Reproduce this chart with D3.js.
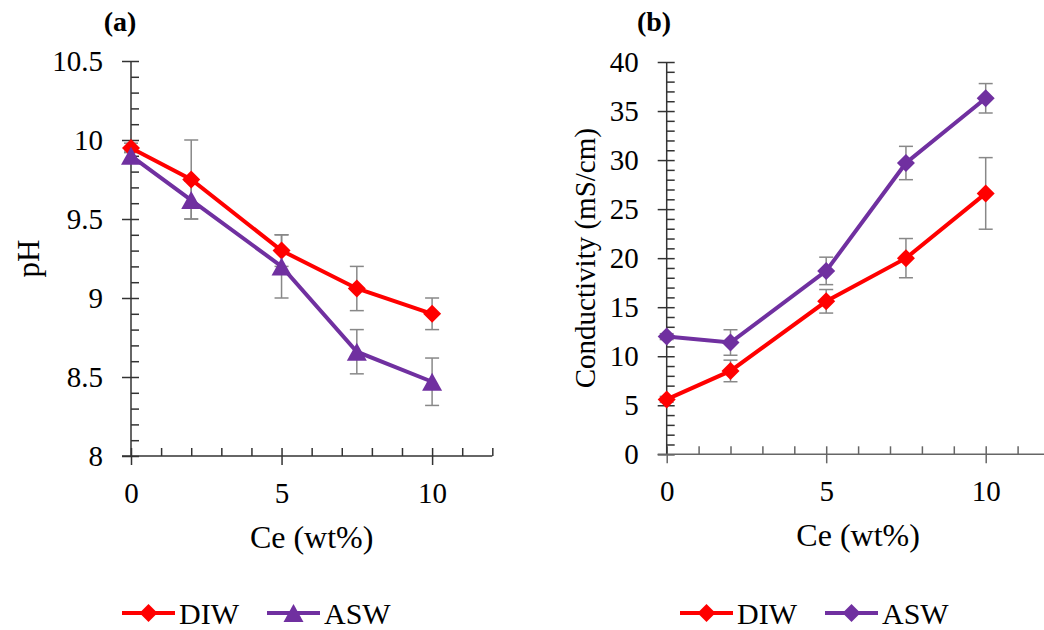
<!DOCTYPE html>
<html>
<head>
<meta charset="utf-8">
<script src="https://cdn.jsdelivr.net/npm/d3@7"></script>
<style>
  body { margin: 0; background: #fff; }
  svg { display: block; }
  svg text { font-family: "Liberation Serif", "Times New Roman", Times, serif !important; fill: #000; }
</style>
</head>
<body>
<script>
// Ce loading (wt%)
const ce = [0, 2, 5, 7.5, 10];

// panel (a): pH
const phDIW = [9.95, 9.75, 9.30, 9.06, 8.90];
const phDIWErr = [0.03, 0.25, 0.10, 0.14, 0.10];
const phASW = [9.90, 9.62, 9.20, 8.66, 8.47];
const phASWErr = [0.03, 0.12, 0.20, 0.14, 0.15];

// panel (b): conductivity (mS/cm)
const condDIW = [5.6, 8.5, 15.6, 20.0, 26.6];
const condDIWErr = [0.3, 1.1, 1.2, 2.0, 3.65];
const condASW = [12.0, 11.4, 18.7, 29.7, 36.3];
const condASWErr = [0.3, 1.3, 1.4, 1.7, 1.5];

const seriesNames = ["DIW", "ASW"];
const colors = { DIW: "#ff0000", ASW: "#7030a0" };

const phTicks = [8, 8.5, 9, 9.5, 10, 10.5];
const condTicks = [0, 5, 10, 15, 20, 25, 30, 35, 40];
const xTicks = [0, 5, 10];

const W = 1044, H = 630;
const svg = d3.select("body").append("svg").attr("width", W).attr("height", H);

const diamond = "M0,-9L9,0L0,9L-9,0Z";
const triangle = "M0,-9L10,9L-10,9Z";

function drawPanel(cfg) {
    let x = d3.scaleLinear().domain([0, 12]).range([cfg.left, cfg.left + cfg.xStep * 12]);
    let y = d3.scaleLinear().domain(cfg.yDomain).range([cfg.bottom, cfg.top]);
    let g = svg.append("g");

    // minor ticks (inside)
    g.append("g")
        .attr("transform", `translate(${cfg.left},0)`)
        .call(d3.axisRight(y).tickValues(d3.range(cfg.yDomain[0], cfg.yDomain[1] + 1e-9, cfg.yMinor)).tickSize(8).tickSizeOuter(0).tickFormat(""))
        .call(a => a.select(".domain").remove())
        .selectAll("line").attr("stroke", cfg.yAxisColor).attr("stroke-width", 1.5);
    g.append("g")
        .attr("transform", `translate(0,${cfg.bottom})`)
        .call(d3.axisTop(x).tickValues(d3.range(0, 13, 1)).tickSize(8).tickSizeOuter(0).tickFormat(""))
        .call(a => a.select(".domain").remove())
        .selectAll("line").attr("stroke", cfg.xAxisColor).attr("stroke-width", 1.5);

    // y axis with labels
    let ya = g.append("g")
        .attr("transform", `translate(${cfg.left},0)`)
        .call(d3.axisLeft(y).tickValues(cfg.yTicks).tickSize(9).tickSizeOuter(0).tickPadding(19).tickFormat(d => String(d)));
    ya.select(".domain").attr("stroke", cfg.yAxisColor).attr("stroke-width", 1.5)
        .attr("d", `M0,${cfg.bottom}V${cfg.top}`);
    ya.selectAll("line").attr("stroke", cfg.yAxisColor).attr("stroke-width", 1.5);
    ya.selectAll("text").style("font-size", "29px").attr("fill", "#000").attr("dy", "0.33em");

    // x axis with labels
    let xa = g.append("g")
        .attr("transform", `translate(0,${cfg.bottom})`)
        .call(d3.axisBottom(x).tickValues(xTicks).tickSize(9).tickSizeOuter(0).tickPadding(17));
    xa.select(".domain").attr("stroke", cfg.xAxisColor).attr("stroke-width", 1.5)
        .attr("d", `M${cfg.left - 9},0H${x(12)}`);
    xa.selectAll("line").attr("stroke", cfg.xAxisColor).attr("stroke-width", 1.5);
    xa.selectAll("text").style("font-size", "29px").attr("fill", "#000").attr("dy", "0.71em");

    // axis titles
    g.append("text")
        .attr("x", (x(0) + x(12)) / 2).attr("y", cfg.bottom + 92)
        .attr("text-anchor", "middle").style("font-size", "32px")
        .text("Ce (wt%)");
    g.append("text")
        .attr("transform", `translate(${cfg.yTitleX},${(cfg.top + cfg.bottom) / 2}) rotate(-90)`)
        .attr("text-anchor", "middle").attr("dy", "0.35em").style("font-size", cfg.yTitleSize)
        .text(cfg.yTitle);
    g.append("text")
        .attr("x", cfg.labelX).attr("y", 31)
        .attr("text-anchor", "middle").style("font-size", "28px").style("font-weight", "bold")
        .text(cfg.label);

    // error bars
    cfg.series.forEach(s => {
        let pts = ce.map((c, i) => ({ x: c, y: s.values[i], e: s.err[i] }));
        let eb = g.append("g").attr("stroke", "#888").attr("stroke-width", 1.5);
        pts.forEach(p => {
            eb.append("line").attr("x1", x(p.x)).attr("x2", x(p.x)).attr("y1", y(p.y - p.e)).attr("y2", y(p.y + p.e));
            eb.append("line").attr("x1", x(p.x) - 7).attr("x2", x(p.x) + 7).attr("y1", y(p.y - p.e)).attr("y2", y(p.y - p.e));
            eb.append("line").attr("x1", x(p.x) - 7).attr("x2", x(p.x) + 7).attr("y1", y(p.y + p.e)).attr("y2", y(p.y + p.e));
        });
    });
    // lines and markers
    cfg.series.forEach(s => {
        let pts = ce.map((c, i) => ({ x: c, y: s.values[i] }));
        g.append("path")
            .datum(pts)
            .attr("fill", "none").attr("stroke", colors[s.name]).attr("stroke-width", 4)
            .attr("d", d3.line().x(d => x(d.x)).y(d => y(d.y)));
        g.selectAll(null).data(pts).enter().append("path")
            .attr("transform", d => `translate(${x(d.x)},${y(d.y)})`)
            .attr("d", s.marker).attr("fill", colors[s.name]);
    });

    // legend
    let lg = g.append("g").attr("transform", `translate(0,${cfg.legendY})`);
    cfg.series.forEach((s, i) => {
        let lx = cfg.legendX[i];
        lg.append("line").attr("x1", lx).attr("x2", lx + 53).attr("y1", 0).attr("y2", 0)
            .attr("stroke", colors[s.name]).attr("stroke-width", 4);
        lg.append("path").attr("transform", `translate(${lx + 26.5},0)`).attr("d", s.marker).attr("fill", colors[s.name]);
        lg.append("text").attr("x", lx + 57).attr("y", 0).attr("dy", "0.35em")
            .style("font-size", "30px").text(s.name);
    });
}

drawPanel({
    left: 131, top: 61, bottom: 456, xStep: 30.11,
    yDomain: [8, 10.5], yTicks: phTicks, yMinor: 0.1,
    yAxisColor: "#333", xAxisColor: "#333",
    yTitle: "pH", yTitleX: 28, yTitleSize: "31px", label: "(a)", labelX: 120,
    legendY: 613, legendX: [122, 267],
    series: [
        { name: seriesNames[0], values: phDIW, err: phDIWErr, marker: diamond },
        { name: seriesNames[1], values: phASW, err: phASWErr, marker: triangle }
    ]
});

drawPanel({
    left: 666.7, top: 62, bottom: 454.3, xStep: 31.9,
    yDomain: [0, 40], yTicks: condTicks, yMinor: 1,
    yAxisColor: "#333", xAxisColor: "#666",
    yTitle: "Conductivity (mS/cm)", yTitleX: 585, yTitleSize: "29px", label: "(b)", labelX: 654,
    legendY: 613, legendX: [680, 825],
    series: [
        { name: seriesNames[0], values: condDIW, err: condDIWErr, marker: diamond },
        { name: seriesNames[1], values: condASW, err: condASWErr, marker: diamond }
    ]
});
</script>
</body>
</html>
